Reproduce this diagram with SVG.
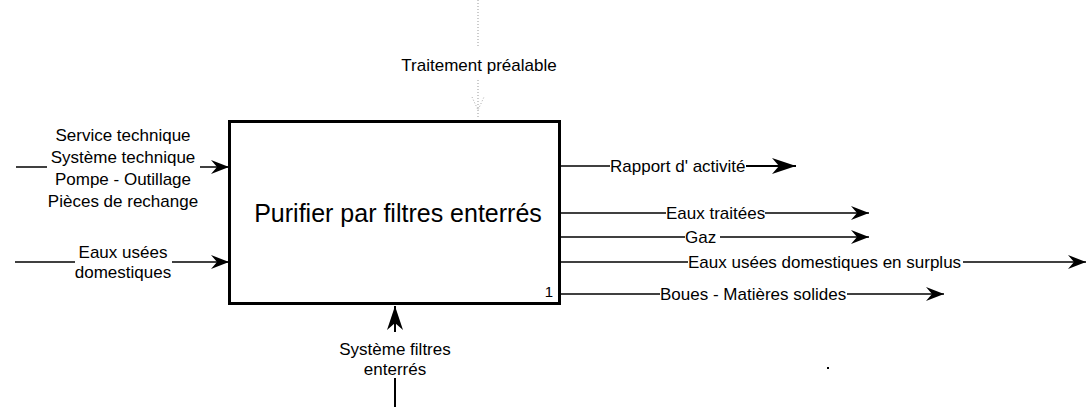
<svg xmlns="http://www.w3.org/2000/svg" width="1086" height="407" viewBox="0 0 1086 407">
<style>
.t{font-family:"Liberation Sans",Arial,sans-serif;font-size:17px;fill:#000}
.c{text-anchor:middle}
.ln{stroke:#000;stroke-width:1.5;fill:none}
.dot{stroke:#999;stroke-width:1;stroke-dasharray:1 2;fill:none}
</style>
<defs>
<marker id="ah" markerWidth="26" markerHeight="20" refX="24" refY="10" orient="auto" markerUnits="userSpaceOnUse">
<path d="M0,2 L24,10 L0,18 L7,10 Z" fill="#000"/>
</marker>
<marker id="ahs" markerWidth="24" markerHeight="18" refX="20" refY="9" orient="auto" markerUnits="userSpaceOnUse">
<path d="M2,2 L20,9 L2,16 L8,9 Z" fill="#000"/>
</marker>
</defs>
<rect width="1086" height="407" fill="#fff"/>

<g id="connectors">
  <!-- inputs -->
  <line class="ln" x1="16" y1="167" x2="47" y2="167"/>
  <line class="ln" x1="200" y1="167" x2="229" y2="167" marker-end="url(#ahs)"/>
  <line class="ln" x1="15" y1="262" x2="75" y2="262"/>
  <line class="ln" x1="172" y1="262" x2="229" y2="262" marker-end="url(#ahs)"/>
  <!-- control -->
  <line class="dot" x1="478" y1="0" x2="478" y2="47"/>
  <line class="dot" x1="478" y1="80" x2="478" y2="119"/>
  <path d="M472,97 L478,110 L484,97" fill="none" stroke="#aaa" stroke-width="1" stroke-dasharray="1 2"/>
  <!-- mechanism -->
  <line x1="395" y1="332" x2="395" y2="306" stroke="#000" stroke-width="2" marker-end="url(#ah)"/>
  <line x1="395" y1="378" x2="395" y2="407" stroke="#000" stroke-width="2"/>
  <!-- outputs -->
  <line class="ln" x1="560" y1="166" x2="610" y2="166"/>
  <line x1="746" y1="166" x2="796" y2="166" stroke="#000" stroke-width="2" marker-end="url(#ah)"/>
  <line class="ln" x1="560" y1="213" x2="666" y2="213"/>
  <line class="ln" x1="765" y1="213" x2="869" y2="213" marker-end="url(#ahs)"/>
  <line class="ln" x1="560" y1="237" x2="685" y2="237"/>
  <line class="ln" x1="720" y1="237" x2="869" y2="237" marker-end="url(#ahs)"/>
  <line class="ln" x1="560" y1="262" x2="688" y2="262"/>
  <line class="ln" x1="963" y1="262" x2="1086" y2="262" marker-end="url(#ahs)"/>
  <line class="ln" x1="560" y1="294" x2="660" y2="294"/>
  <line class="ln" x1="847" y1="294" x2="944" y2="294" marker-end="url(#ahs)"/>
</g>

<g id="node-1">
  <rect x="229.5" y="121.5" width="330" height="182" fill="#fff" stroke="#000" stroke-width="3"/>
  <text x="398" y="222" class="c" style="font-family:'Liberation Sans',Arial,sans-serif;font-size:25px">Purifier par filtres enterrés</text>
  <text x="549" y="297" class="t c" style="font-size:15px">1</text>
</g>

<g id="labels">
  <text class="t c" x="123" y="141">Service technique</text>
  <text class="t c" x="123" y="163">Système technique</text>
  <text class="t c" x="123" y="185">Pompe - Outillage</text>
  <text class="t c" x="123" y="207">Pièces de rechange</text>
  <text class="t c" x="123" y="258">Eaux usées</text>
  <text class="t c" x="123" y="278">domestiques</text>
  <text class="t c" x="479" y="71">Traitement préalable</text>
  <text class="t c" x="395" y="355">Système filtres</text>
  <text class="t c" x="395" y="375">enterrés</text>
  <text class="t" x="610" y="172">Rapport d' activité</text>
  <text class="t" x="666" y="219">Eaux traitées</text>
  <text class="t" x="685" y="243">Gaz</text>
  <text class="t" x="688" y="268">Eaux usées domestiques en surplus</text>
  <text class="t" x="660" y="300">Boues - Matières solides</text>
</g>
<rect x="827" y="367" width="2" height="2" fill="#000"/>
</svg>
